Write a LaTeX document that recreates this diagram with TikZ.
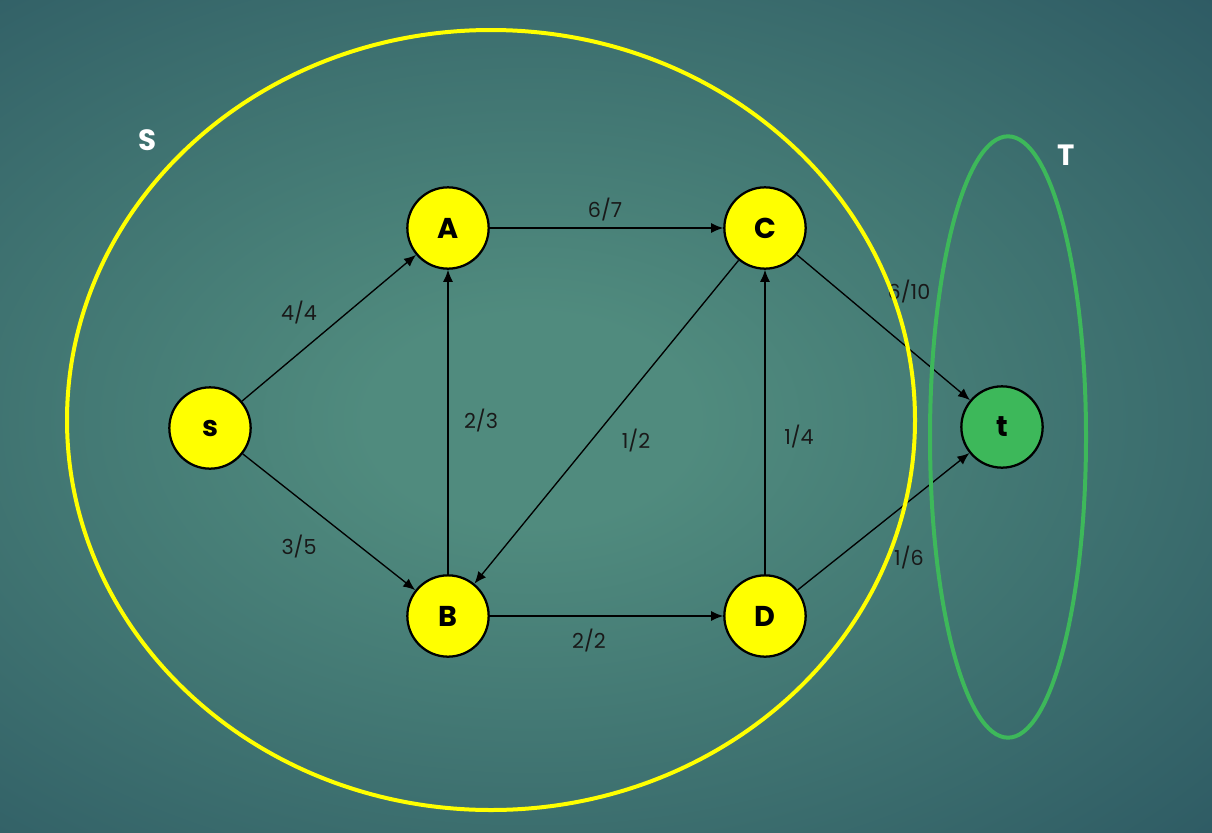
\documentclass[tikz,border=0pt]{standalone}
\usepackage{fontspec}
\setmainfont{Poppins}
\usetikzlibrary{arrows.meta,shapes.geometric}
\definecolor{bgin}{HTML}{508B7E}
\definecolor{bgout}{HTML}{28525F}
\definecolor{ylw}{HTML}{FFFF00}
\definecolor{grn}{HTML}{3DB85A}
\pgfdeclareradialshading{bgshade}{\pgfpoint{0bp}{0bp}}{color(0bp)=(bgin); color(6bp)=(bgin); color(40bp)=(bgout); color(100bp)=(bgout)}
\begin{document}
\begin{tikzpicture}[x=0.75pt,y=-0.75pt,
  vtx/.style={circle, draw=black, line width=1.7pt, fill=ylw, minimum size=61pt, inner sep=0pt, font=\fontsize{21.5}{23}\selectfont\bfseries},
  flow/.style={-{Latex[length=9pt,width=7.5pt]}, line width=1pt, draw=black},
  lbl/.style={font=\fontsize{15.5}{17}\selectfont, text=black!90, inner sep=0pt},
  setlbl/.style={font=\fontsize{22}{24}\selectfont\bfseries, text=white, inner sep=0pt}]
\useasboundingbox (0,0) rectangle (1212,832);
\begin{scope}
  \clip (0,0) rectangle (1212,832);
  \shade[shading=bgshade] (-150,-20) rectangle (1212,860);
\end{scope}
% vertices
\node[vtx] (s) at (210,428) {s};
\node[vtx] (A) at (448,228) {A};
\node[vtx] (B) at (448,616) {B};
\node[vtx] (C) at (765,228) {C};
\node[vtx] (D) at (765,616) {D};
\node[vtx, fill=grn] (t) at (1002,427) {t};
% edges
\draw[flow] (s) -- (A);
\draw[flow] (s) -- (B);
\draw[flow] (A) -- (C);
\draw[flow] (B) -- (A);
\draw[flow] (C) -- (B);
\draw[flow] (B) -- (D);
\draw[flow] (D) -- (C);
\draw[flow] (C) -- (t);
\draw[flow] (D) -- (t);
% labels
\node[lbl] (l1) at (299,313) {4/4};
\node[lbl] (l2) at (299,547) {3/5};
\node[lbl] (l3) at (605,210) {6/7};
\node[lbl] (l4) at (481,421) {2/3};
\node[lbl] (l5) at (636,441) {1/2};
\node[lbl] (l6) at (799,437) {1/4};
\node[lbl] (l7) at (589,641) {2/2};
\node[lbl] (l8) at (909,292) {6/10};
\node[lbl] (l9) at (909,558) {1/6};
% cut sets
\node[draw=ylw, line width=3pt, ellipse, minimum width=636pt, minimum height=585pt, inner sep=0pt] (Sset) at (491,420) {};
\node[draw=grn, line width=3pt, ellipse, minimum width=117pt, minimum height=451pt, inner sep=0pt] (Tset) at (1008,437) {};
\node[setlbl] (Slbl) at (148,140) {S};
\node[setlbl] (Tlbl) at (1066,155) {T};
\end{tikzpicture}
\end{document}
